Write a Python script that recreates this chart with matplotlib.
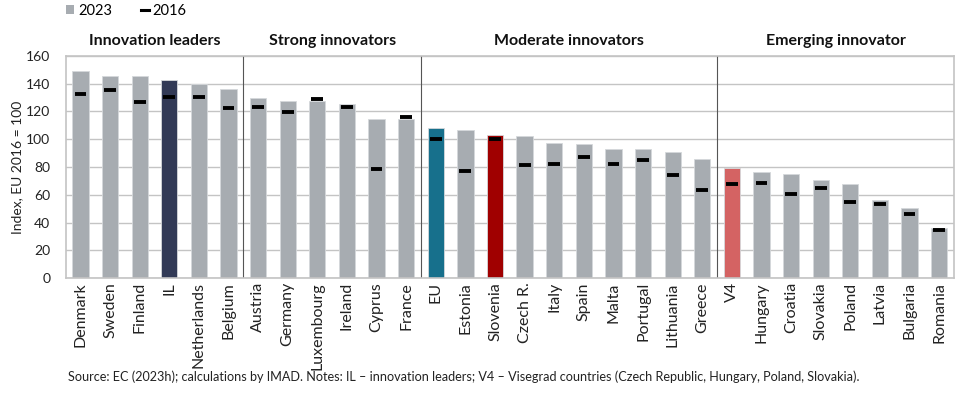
import matplotlib.pyplot as plt
import numpy as np
from matplotlib.patches import Patch
from matplotlib.lines import Line2D

plt.rcParams['font.family'] = ['Lato', 'DejaVu Sans']

# データ
countries = ['Denmark', 'Sweden', 'Finland', 'IL', 'Netherlands', 'Belgium',
             'Austria', 'Germany', 'Luxembourg', 'Ireland', 'Cyprus', 'France',
             'EU', 'Estonia', 'Slovenia', 'Czech R.', 'Italy', 'Spain', 'Malta',
             'Portugal', 'Lithuania', 'Greece',
             'V4', 'Hungary', 'Croatia', 'Slovakia', 'Poland', 'Latvia',
             'Bulgaria', 'Romania']
val_2023 = [149.2, 145.4, 145.4, 142.7, 139.6, 136.0,
            129.5, 127.6, 127.4, 125.2, 114.4, 114.4,
            108.3, 106.4, 102.8, 102.3, 97.5, 96.3, 92.7,
            92.7, 90.6, 85.8,
            79.5, 76.2, 75.2, 70.9, 67.7, 56.4,
            50.2, 35.7]
val_2016 = [132.8, 135.5, 127.0, 130.2, 130.7, 122.3,
            123.2, 119.9, 128.8, 123.2, 78.6, 115.8,
            100.4, 77.3, 100.4, 81.7, 82.4, 87.2, 82.4,
            84.8, 74.5, 63.7,
            67.5, 68.5, 60.5, 64.6, 54.5, 53.6,
            46.1, 34.3]
groups = ['Innovation leaders', 'Strong innovators', 'Moderate innovators', 'Emerging innovator']
group_sizes = [6, 6, 10, 8]

# 色
GRAY = '#A7ACB1'
highlight = {'IL': '#323A56', 'EU': '#17708C', 'Slovenia': '#A00000', 'V4': '#D46363'}
colors = [highlight.get(c, GRAY) for c in countries]

fig = plt.figure(figsize=(9.6, 3.94), dpi=100)
ax = fig.add_axes([0.0684, 0.2944, 0.9253, 0.5635])

x = np.arange(len(countries))
ax.bar(x, val_2023, width=0.55, color=colors, edgecolor='#D5D8DB', linewidth=0.6, zorder=2)
ax.hlines(val_2016, x - 0.2, x + 0.2, color='black', linewidth=2.8, zorder=3)

ax.set_xlim(-0.5, len(countries) - 0.5)
ax.set_ylim(0, 160)
ax.set_yticks(np.arange(0, 161, 20))
ax.set_xticks(x)
ax.set_xticklabels(countries, rotation=90, fontsize=11.5)
ax.tick_params(axis='both', length=0, colors='#222222')
ax.tick_params(axis='y', labelsize=10, pad=11)
ax.tick_params(axis='x', pad=3)
ax.yaxis.grid(True, color='#C4C4C4', linewidth=1.0, zorder=0)
ax.set_axisbelow(True)
for s in ax.spines.values():
    s.set_color('#C4C4C4')
    s.set_linewidth(1.2)
ax.set_ylabel('Index, EU 2016 = 100', fontsize=10, color='#222222', labelpad=2)

# グループの区切り線と見出し
start = 0
for name, n in zip(groups, group_sizes):
    if start > 0:
        ax.axvline(start - 0.5, color='#555555', linewidth=0.8, zorder=1)
    ax.text(start + (n - 1) / 2, 166, name, ha='center', va='bottom',
            fontsize=11.5, fontweight='bold', color='#111111')
    start += n

# 凡例
handles = [Patch(facecolor=GRAY, edgecolor='none', label='2023'),
           Line2D([], [], color='black', linewidth=2.2, label='2016')]
fig.legend(handles=handles, loc='upper left', bbox_to_anchor=(0.069, 0.99), ncol=2,
           frameon=False, fontsize=10.5, handlelength=0.55, handleheight=0.6,
           handletextpad=0.25, columnspacing=2.0, borderpad=0, borderaxespad=0)

fig.text(0.071, 0.033, 'Source: EC (2023h); calculations by IMAD. Notes: IL \u2013 innovation leaders; '
         'V4 \u2013 Visegrad countries (Czech Republic, Hungary, Poland, Slovakia).',
         fontsize=9.1, color='#222222')

fig.savefig('out.png', dpi=100)
